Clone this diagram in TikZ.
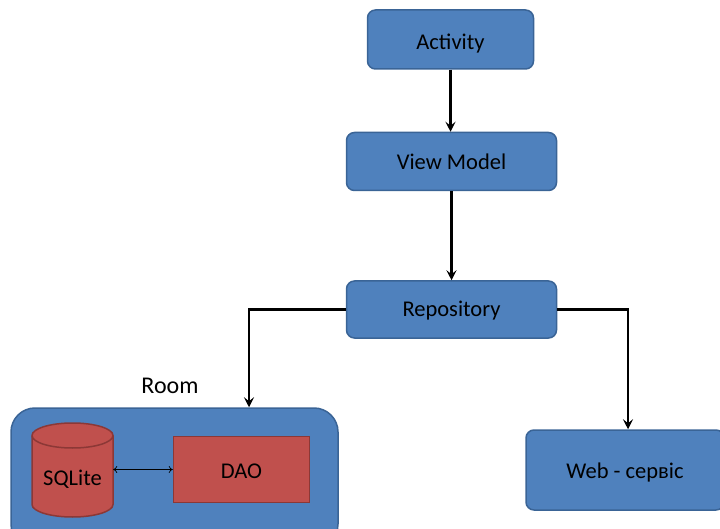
\documentclass[tikz,border=0pt]{standalone}
\usepackage{fontspec}
\setmainfont{Carlito}
\usetikzlibrary{arrows.meta}
\definecolor{boxblue}{HTML}{4F81BD}
\definecolor{boxblueline}{HTML}{3A6496}
\definecolor{boxred}{HTML}{C0504D}
\definecolor{boxredline}{HTML}{8C3836}
% lower a label inside its box without changing the box size
\newcommand{\dropby}[2]{\raisebox{-#1}[\height][\depth]{#2}}
\tikzset{
  blockbox/.style={draw=boxblueline, fill=boxblue, line width=1.5pt,
    rounded corners=8pt, inner sep=0pt, font=\fontsize{22.5}{26}\selectfont},
  roombox/.style={draw=boxblueline, fill=boxblue, line width=1.5pt,
    rounded corners=24pt, inner sep=0pt},
  daobox/.style={draw=boxredline, fill=boxred, line width=1.5pt,
    inner sep=0pt, font=\fontsize{22.5}{26}\selectfont},
  cyl/.style={draw=boxredline, fill=boxred, line width=1.5pt},
  flow/.style={draw=black, line width=2.3pt,
    -{Stealth[length=10pt,width=10pt,inset=4pt]}},
  link/.style={draw=black, line width=0.7pt, {To[length=4pt,width=7pt]}-{To[length=4pt,width=7pt]}},
}
\begin{document}
\begin{tikzpicture}[x=1pt,y=-1pt]
\useasboundingbox (0,0) rectangle (720,529);

% upper chain
\node[blockbox, minimum width=166pt, minimum height=59pt] (act) at (450.5,39.5) {\dropby{4pt}{Activity}};
\node[blockbox, minimum width=210pt, minimum height=58pt] (vm) at (451.5,161.5) {View Model};
\node[blockbox, minimum width=210pt, minimum height=57pt] (rep) at (451.5,309.5) {\dropby{1pt}{Repository}};

% Room container
\node[roombox, minimum width=327pt, minimum height=140pt] (room) at (174.5,478) {};
\node[font=\fontsize{24}{28}\selectfont] (roomlbl) at (170,386) {Room};

% SQLite cylinder
\path[cyl] (32,435.5) -- (32,504.5)
  arc[start angle=180, end angle=0, x radius=40.5, y radius=12.5]
  -- (113,435.5)
  arc[start angle=0, end angle=-180, x radius=40.5, y radius=12.5] -- cycle;
\draw[boxredline, line width=1.5pt] (32,435.5)
  arc[start angle=180, end angle=0, x radius=40.5, y radius=12.5];
\node[inner sep=0pt, minimum width=81pt, minimum height=60pt,
  font=\fontsize{22.5}{26}\selectfont] (sql) at (72.5,479) {SQLite};

% DAO
\node[daobox, minimum width=136pt, minimum height=66pt] (dao) at (241.5,469.5) {\dropby{1.5pt}{DAO}};

% Web service
\node[blockbox, minimum width=198pt, minimum height=80pt] (web) at (625,470) {\dropby{2pt}{Web - сервіс}};

% connectors
\draw[flow] (act) -- (vm.north -| act.south);
\draw[flow] (vm) -- (rep);
\draw[flow] (rep.west) -| ([xshift=74.5pt]room.north);
\draw[flow] (rep.east) -| ([xshift=3pt]web.north);
\draw[link] (sql.east |- dao.west) -- (dao.west);
\end{tikzpicture}
\end{document}
